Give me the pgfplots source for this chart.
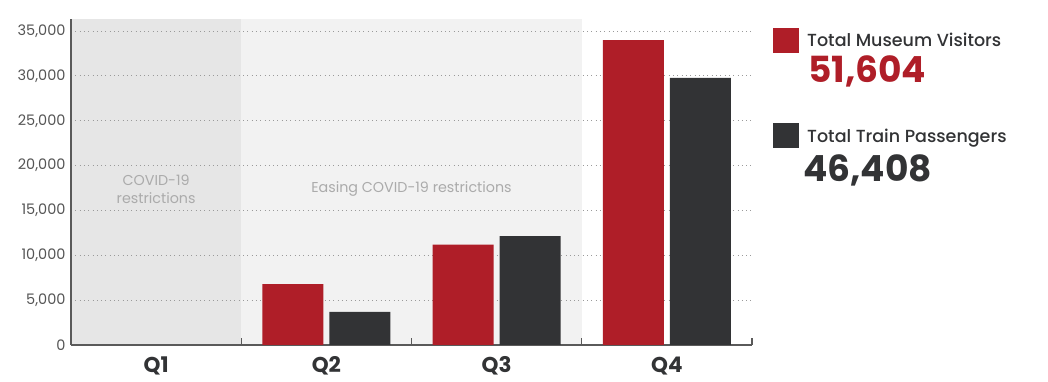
\documentclass[border=0pt]{standalone}
\usepackage{fontspec}
\setmainfont{Poppins}
\IfFontExistsTF{Poppins Medium}{\newfontfamily\medfont{Poppins Medium}}{\newfontfamily\medfont{Poppins}}
\usepackage{pgfplots}
\pgfplotsset{compat=1.18}
\definecolor{museum}{HTML}{AF1E28}
\definecolor{train}{HTML}{323335}
\definecolor{axisgray}{HTML}{5A5A5A}
\definecolor{gridgray}{HTML}{9A9A9A}
\definecolor{tickgray}{HTML}{555555}
\definecolor{qonebg}{HTML}{E6E6E6}
\definecolor{qtwobg}{HTML}{F2F2F2}
\definecolor{anngray}{HTML}{ABABAB}
\begin{document}
\begin{tikzpicture}
\begin{axis}[
  set layers,
  scale only axis, width=681pt, height=325.5pt,
  xmin=-0.5, xmax=3.5, ymin=0, ymax=36300,
  axis lines*=left,
  axis line style={draw=axisgray, line width=1.2pt},
  xtick={0,1,2,3}, xticklabels={Q1,Q2,Q3,Q4},
  ytick={0,5000,10000,15000,20000,25000,30000,35000},
  yticklabels={0,{5,000},{10,000},{15,000},{20,000},{25,000},{30,000},{35,000}},
  scaled y ticks=false,
  major tick length=0pt,
  extra x ticks={0.5,1.5,2.5,3.5}, extra x tick labels={},
  extra x tick style={major tick length=7pt, tick align=inside, tick style={draw=axisgray, line width=1.2pt}},
  ymajorgrids, grid style={draw=gridgray, line width=1pt, dash pattern=on 1pt off 3.3pt},
  yticklabel style={font=\fontsize{14.5}{16}\selectfont, text=tickgray, xshift=-2pt},
  xticklabel style={font=\fontsize{21.5}{24}\selectfont\bfseries, text=train, yshift=-8pt},
]
\addplot[fill=qonebg, draw=none, on layer=axis background, forget plot] coordinates {(-0.5,0) (-0.5,36300) (0.5,36300) (0.5,0)} -- cycle;
\addplot[fill=qtwobg, draw=none, on layer=axis background, forget plot] coordinates {(0.5,0) (0.5,36300) (2.5,36300) (2.5,0)} -- cycle;
\addplot[ybar, bar width=61pt, fill=museum, draw=none, bar shift=-33.5pt] coordinates {(1,6800) (2,11200) (3,34000)};
\addplot[ybar, bar width=61pt, fill=train, draw=none, bar shift=33.5pt] coordinates {(1,3700) (2,12150) (3,29800)};
\node[text=anngray, font=\fontsize{14.3}{18}\selectfont, align=center] at (axis cs:0,17400) {COVID-19\\restrictions};
\node[text=anngray, font=\fontsize{14.3}{18}\selectfont] at (axis cs:1.5,17400) {Easing COVID-19 restrictions};
\end{axis}
\fill[museum] (702pt,292pt) rectangle (728pt,317pt);
\node[anchor=base west, inner sep=0pt, text=train, font=\medfont\fontsize{17.5}{20}\selectfont] at (736pt,298pt) {Total Museum Visitors};
\node[anchor=base west, inner sep=0pt, text=museum, font=\fontsize{36}{40}\selectfont\bfseries] at (737pt,262pt) {51,604};
\fill[train] (702pt,197pt) rectangle (728pt,222pt);
\node[anchor=base west, inner sep=0pt, text=train, font=\medfont\fontsize{17.5}{20}\selectfont] at (736pt,202pt) {Total Train Passengers};
\node[anchor=base west, inner sep=0pt, text=train, font=\fontsize{36}{40}\selectfont\bfseries] at (732pt,163pt) {46,408};
\path (-71pt,-37pt) rectangle (977pt,345pt);
\end{tikzpicture}
\end{document}
